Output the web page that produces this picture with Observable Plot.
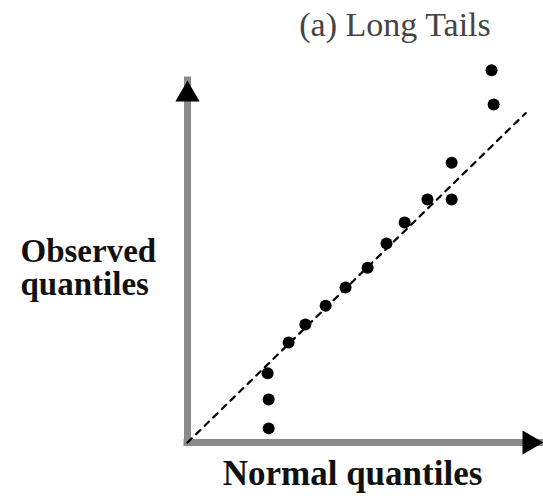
<!DOCTYPE html>
<html>
<head>
<meta charset="utf-8">
<script src="https://cdn.jsdelivr.net/npm/d3@7"></script>
<script src="https://cdn.jsdelivr.net/npm/@observablehq/plot@0.6"></script>
<style>
  html, body { margin: 0; padding: 0; background: #fff; }
</style>
</head>
<body>
<div id="chart"></div>
<script>
// Data (schematic units: 0–100 along each axis)
const normalQuantiles   = [22.8, 22.8, 22.5, 28.4, 33.1, 38.8, 44.4, 50.6, 55.9, 61.0, 67.4, 74.2, 74.2, 86.0, 85.4];
const observedQuantiles = [ 3.9, 11.9, 19.1, 27.6, 32.6, 37.8, 42.8, 48.3, 55.0, 60.8, 67.1, 67.1, 77.3, 93.4, 102.8];
const refLineX = [0, 95];
const refLineY = [0, 91];
const axisMax = 100;

const titleText = "(a) Long Tails";
const yLabelText = "Observed\nquantiles";
const xLabelText = "Normal quantiles";

const points = normalQuantiles.map((x, i) => ({x, y: observedQuantiles[i]}));
const refLine = refLineX.map((x, i) => ({x, y: refLineY[i]}));

const serif = "'Liberation Serif', 'Times New Roman', serif";

const chart = Plot.plot({
  width: 543,
  height: 496,
  marginLeft: 187,
  marginRight: 0,
  marginTop: 80,
  marginBottom: 54,
  x: {domain: [0, axisMax], axis: null},
  y: {domain: [0, axisMax], axis: null},
  style: {background: "#fff", overflow: "visible"},
  marks: [
    // axes
    Plot.ruleY([0], {x1: 0, x2: axisMax, stroke: "#8a8a8a", strokeWidth: 7, strokeLinecap: "square"}),
    Plot.ruleX([0], {y1: 0, y2: axisMax, stroke: "#8a8a8a", strokeWidth: 7, strokeLinecap: "square"}),
    Plot.dot([axisMax], {x: 0, y: d => d, symbol: "triangle", r: 9, fill: "#000", stroke: null, dy: 14}),
    Plot.dot([axisMax], {x: d => d, y: 0, symbol: "triangle", r: 9, fill: "#000", stroke: null, rotate: 90, dx: -14}),
    // reference line
    Plot.line(refLine, {x: "x", y: "y", stroke: "#000", strokeWidth: 2.2, strokeDasharray: "6,6"}),
    // data points
    Plot.dot(points, {x: "x", y: "y", r: 6, fill: "#000", stroke: null}),
    // text
    Plot.text([titleText], {frameAnchor: "top", dx: 29.5, dy: -69, fontSize: 34, fontFamily: serif, fill: "#444"}),
    Plot.text([yLabelText], {frameAnchor: "left", textAnchor: "start", dx: -167, dy: 6, fontSize: 33, lineHeight: 1, fontWeight: "bold", fontFamily: serif, fill: "#111"}),
    Plot.text([xLabelText], {frameAnchor: "bottom", dx: -13, dy: 42, fontSize: 35, fontWeight: "bold", fontFamily: serif, fill: "#111"})
  ]
});
document.getElementById("chart").appendChild(chart);
</script>
</body>
</html>
